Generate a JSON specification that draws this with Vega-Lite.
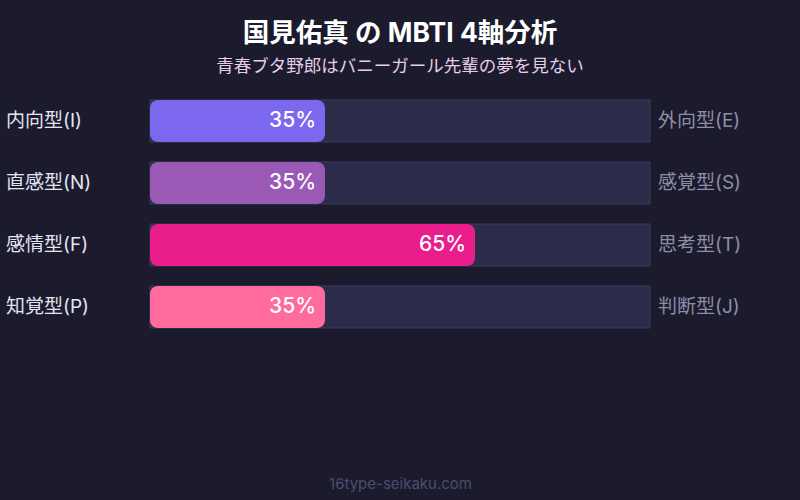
{
  "$schema": "https://vega.github.io/schema/vega-lite/v6.json",
  "width": 800,
  "height": 380,
  "autosize": "none",
  "padding": {"top": 90, "left": 0, "right": 0, "bottom": 30},
  "background": "#1b1b2d",
  "config": {
    "view": {"stroke": null},
    "font": "Inter, Noto Sans CJK JP"
  },
  "title": {
    "text": "国見佑真 の MBTI 4軸分析",
    "subtitle": "青春ブタ野郎はバニーガール先輩の夢を見ない",
    "anchor": "middle",
    "frame": "group",
    "color": "#ffffff",
    "fontSize": 26.5,
    "fontWeight": "bold",
    "font": "Inter, Noto Sans CJK JP",
    "subtitleColor": "#e6cdea",
    "subtitleFontSize": 17.5,
    "subtitleFont": "Inter, Noto Sans CJK JP",
    "subtitlePadding": 10,
    "offset": 15
  },
  "data": {
    "values": [
      {"axis": "IE", "left": "内向型(I)", "right": "外向型(E)", "value": 0.35},
      {"axis": "NS", "left": "直感型(N)", "right": "感覚型(S)", "value": 0.35},
      {"axis": "FT", "left": "感情型(F)", "right": "思考型(T)", "value": 0.65},
      {"axis": "PJ", "left": "知覚型(P)", "right": "判断型(J)", "value": 0.35}
    ]
  },
  "encoding": {
    "y": {
      "field": "axis",
      "type": "nominal",
      "sort": null,
      "scale": {"range": [0, 248], "paddingInner": 0.3226, "paddingOuter": 0.1613},
      "axis": null
    }
  },
  "layer": [
    {
      "mark": {"type": "bar", "fill": "#2c2b4a", "stroke": "#3d3c60", "strokeWidth": 1},
      "encoding": {
        "x": {
          "datum": 1,
          "type": "quantitative",
          "scale": {"domain": [0, 1], "range": [150, 650], "clamp": false, "zero": true},
          "axis": {
            "title": "16type-seikaku.com",
            "labels": false,
            "ticks": false,
            "domain": false,
            "grid": false,
            "titleColor": "#4c4c6c",
            "titleFontSize": 15,
            "titleFontWeight": "normal",
            "titleFont": "Inter",
            "titlePadding": 6
          }
        }
      }
    },
    {
      "mark": {"type": "bar", "cornerRadius": 8},
      "encoding": {
        "x": {"field": "value", "type": "quantitative"},
        "color": {
          "field": "axis",
          "type": "nominal",
          "scale": {"domain": ["IE", "NS", "FT", "PJ"], "range": ["#7b68ee", "#9b59b6", "#e91e8c", "#ff6b9d"]},
          "legend": null
        }
      }
    },
    {
      "mark": {"type": "text", "align": "right", "baseline": "middle", "dx": -9, "fontSize": 21, "fontWeight": 500, "font": "Inter", "color": "#ffffff"},
      "encoding": {
        "x": {"field": "value", "type": "quantitative"},
        "text": {"field": "value", "type": "quantitative", "format": ".0%"}
      }
    },
    {
      "mark": {"type": "text", "align": "left", "baseline": "middle", "fontSize": 19, "color": "#e4e4f2"},
      "encoding": {
        "x": {"datum": -0.288, "type": "quantitative"},
        "text": {"field": "left", "type": "nominal"}
      }
    },
    {
      "mark": {"type": "text", "align": "left", "baseline": "middle", "fontSize": 19, "color": "#8e8ea6"},
      "encoding": {
        "x": {"datum": 1.016, "type": "quantitative"},
        "text": {"field": "right", "type": "nominal"}
      }
    }
  ]
}
